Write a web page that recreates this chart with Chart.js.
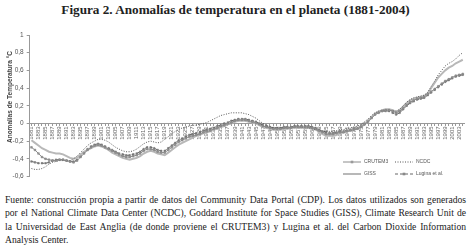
<!DOCTYPE html>
<html>
<head>
<meta charset="utf-8">
<script src="https://cdn.jsdelivr.net/npm/chart.js@4.4.1/dist/chart.umd.min.js"></script>
<style>
  body { margin: 0; width: 471px; height: 245px; background: #fff; overflow: hidden; position: relative; }
  #title { position: absolute; left: 0; top: 2px; width: 471px; text-align: center;
           font: bold 13.2px "Liberation Serif", serif; color: #222; }
  #box { position: absolute; left: 0; top: 28px; width: 471px; height: 164px; }
  #note { position: absolute; left: 5px; top: 193px; width: 461px;
          font: 9.6px/13.3px "Liberation Serif", serif; color: #222; }
  #note .j { text-align: justify; text-align-last: justify; }
</style>
</head>
<body>
<div id="title">Figura 2. Anomalías de temperatura en el planeta (1881-2004)</div>
<div id="box"><canvas id="chart" width="471" height="164"></canvas></div>
<div id="note">
  <div class="j">Fuente: construcción propia a partir de datos del Community Data Portal (CDP). Los datos utilizados son generados</div>
  <div class="j">por el National Climate Data Center (NCDC), Goddard Institute for Space Studies (GISS), Climate Research Unit de</div>
  <div class="j">la Universidad de East Anglia (de donde proviene el CRUTEM3) y Lugina et al. del Carbon Dioxide Information</div>
  <div>Analysis Center.</div>
</div>
<script>
// years 1881..2004
const years = [];
for (let y = 1881; y <= 2004; y++) years.push(y);

const yTicks = [1, 0.8, 0.6, 0.4, 0.2, 0, -0.2, -0.4, -0.6];

const crutem3 = [
  -0.27,-0.30,-0.34,-0.38,-0.40,-0.41,-0.42,-0.42,-0.41,-0.41,
  -0.42,-0.43,-0.44,-0.42,-0.38,-0.34,-0.30,-0.27,-0.25,-0.24,
  -0.25,-0.27,-0.29,-0.31,-0.33,-0.35,-0.37,-0.38,-0.38,-0.37,
  -0.36,-0.34,-0.31,-0.29,-0.29,-0.30,-0.32,-0.33,-0.33,-0.30,
  -0.27,-0.24,-0.21,-0.19,-0.17,-0.15,-0.14,-0.13,-0.12,-0.10,
  -0.09,-0.08,-0.06,-0.05,-0.03,-0.02,0.00,0.01,0.03,0.04,
  0.04,0.04,0.03,0.02,0.01,-0.01,-0.03,-0.04,-0.05,-0.06,
  -0.06,-0.06,-0.05,-0.05,-0.05,-0.04,-0.04,-0.04,-0.04,-0.04,
  -0.05,-0.06,-0.08,-0.10,-0.12,-0.12,-0.12,-0.11,-0.10,-0.10,
  -0.09,-0.08,-0.07,-0.06,-0.04,-0.01,0.02,0.06,0.10,0.12,
  0.14,0.15,0.15,0.14,0.12,0.14,0.17,0.21,0.24,0.26,
  0.28,0.29,0.30,0.33,0.36,0.39,0.42,0.45,0.48,0.50,
  0.52,0.54,0.55,0.56
];
const ncdc = [
  -0.51,-0.52,-0.52,-0.51,-0.49,-0.46,-0.44,-0.43,-0.42,-0.42,
  -0.42,-0.42,-0.40,-0.37,-0.33,-0.29,-0.25,-0.22,-0.20,-0.18,
  -0.18,-0.19,-0.21,-0.24,-0.27,-0.29,-0.31,-0.32,-0.32,-0.31,
  -0.29,-0.26,-0.23,-0.21,-0.20,-0.21,-0.22,-0.21,-0.18,-0.15,
  -0.12,-0.09,-0.07,-0.05,-0.04,-0.03,-0.02,-0.02,-0.01,0.00,
  0.01,0.03,0.05,0.07,0.09,0.10,0.11,0.12,0.12,0.12,
  0.12,0.11,0.10,0.08,0.06,0.03,0.00,-0.02,-0.04,-0.05,
  -0.05,-0.05,-0.05,-0.05,-0.04,-0.04,-0.04,-0.04,-0.05,-0.05,
  -0.06,-0.07,-0.08,-0.09,-0.09,-0.09,-0.09,-0.08,-0.07,-0.07,
  -0.06,-0.05,-0.04,-0.03,-0.01,0.02,0.05,0.09,0.12,0.14,
  0.15,0.15,0.15,0.14,0.14,0.16,0.20,0.24,0.27,0.29,
  0.30,0.31,0.32,0.35,0.42,0.48,0.55,0.60,0.65,0.68,
  0.70,0.73,0.77,0.80
];
const giss = [
  -0.19,-0.22,-0.25,-0.28,-0.30,-0.32,-0.33,-0.34,-0.34,-0.35,
  -0.37,-0.39,-0.40,-0.39,-0.35,-0.32,-0.30,-0.28,-0.26,-0.25,
  -0.26,-0.28,-0.30,-0.33,-0.35,-0.37,-0.39,-0.40,-0.41,-0.40,
  -0.39,-0.37,-0.34,-0.32,-0.31,-0.32,-0.34,-0.35,-0.36,-0.33,
  -0.30,-0.27,-0.24,-0.22,-0.20,-0.18,-0.16,-0.14,-0.13,-0.11,
  -0.10,-0.09,-0.07,-0.06,-0.04,-0.03,-0.01,0.00,0.02,0.03,
  0.03,0.03,0.02,0.01,0.00,-0.02,-0.04,-0.05,-0.06,-0.07,
  -0.07,-0.07,-0.06,-0.06,-0.05,-0.05,-0.05,-0.05,-0.05,-0.05,
  -0.06,-0.07,-0.09,-0.12,-0.14,-0.14,-0.14,-0.13,-0.11,-0.10,
  -0.09,-0.08,-0.07,-0.06,-0.04,-0.01,0.03,0.07,0.11,0.13,
  0.15,0.16,0.16,0.15,0.13,0.15,0.19,0.23,0.26,0.28,
  0.29,0.30,0.31,0.34,0.40,0.46,0.52,0.56,0.60,0.63,
  0.65,0.68,0.70,0.72
];
const lugina = [
  -0.43,-0.44,-0.45,-0.45,-0.45,-0.44,-0.42,-0.41,-0.41,-0.41,
  -0.42,-0.43,-0.43,-0.41,-0.37,-0.33,-0.29,-0.26,-0.24,-0.23,
  -0.24,-0.26,-0.28,-0.30,-0.32,-0.34,-0.35,-0.36,-0.36,-0.35,
  -0.34,-0.32,-0.29,-0.27,-0.27,-0.28,-0.30,-0.31,-0.31,-0.28,
  -0.25,-0.22,-0.19,-0.17,-0.15,-0.13,-0.12,-0.11,-0.10,-0.08,
  -0.07,-0.06,-0.05,-0.03,-0.02,0.00,0.01,0.03,0.04,0.05,
  0.05,0.05,0.04,0.03,0.02,0.00,-0.02,-0.03,-0.04,-0.05,
  -0.05,-0.05,-0.04,-0.04,-0.04,-0.03,-0.03,-0.03,-0.03,-0.03,
  -0.04,-0.05,-0.07,-0.09,-0.10,-0.11,-0.11,-0.10,-0.09,-0.09,
  -0.08,-0.07,-0.06,-0.05,-0.03,0.00,0.03,0.07,0.11,0.13,
  0.14,0.14,0.14,0.12,0.10,0.12,0.16,0.20,0.23,0.25,
  0.27,0.28,0.29,0.32,0.35,0.38,0.41,0.44,0.47,0.49,
  0.51,0.53,0.54,0.55
];

// legend + y title drawn by hand, like the office chart
const extras = {
  id: 'extras',
  afterDraw(chart) {
    const ctx = chart.ctx;
    ctx.save();
    // y axis title
    ctx.translate(10, 69);
    ctx.rotate(-Math.PI / 2);
    ctx.font = 'bold 6.5px "Liberation Sans", sans-serif';
    ctx.fillStyle = '#444';
    ctx.textAlign = 'center';
    ctx.textBaseline = 'middle';
    ctx.fillText('Anomalías de Temperatura °C', 0, 0);
    ctx.restore();

    // legend
    const items = [
      { text: 'CRUTEM3', x: 343, y: 134, ds: 0 },
      { text: 'NCDC', x: 395, y: 134, ds: 1 },
      { text: 'GISS', x: 343, y: 146, ds: 2 },
      { text: 'Lugina et al.', x: 395, y: 146, ds: 3 }
    ];
    ctx.save();
    ctx.font = '5px "Liberation Sans", sans-serif';
    ctx.textBaseline = 'middle';
    items.forEach(it => {
      const d = chart.data.datasets[it.ds];
      ctx.strokeStyle = d.borderColor;
      ctx.lineWidth = d.borderWidth;
      ctx.setLineDash(d.borderDash || []);
      ctx.beginPath();
      ctx.moveTo(it.x, it.y);
      ctx.lineTo(it.x + 18, it.y);
      ctx.stroke();
      ctx.setLineDash([]);
      if (d.pointRadius > 0) {
        ctx.fillStyle = d.pointBackgroundColor;
        ctx.fillRect(it.x + 9 - 1.3, it.y - 1.3, 2.6, 2.6);
      }
      ctx.fillStyle = '#555';
      ctx.fillText(it.text, it.x + 21, it.y);
    });
    ctx.restore();
  }
};

new Chart(document.getElementById('chart'), {
  type: 'line',
  data: {
    labels: years,
    datasets: [
      {
        label: 'CRUTEM3',
        data: crutem3,
        borderColor: '#8c8c8c',
        borderWidth: 1,
        pointStyle: 'rect',
        pointRadius: 1.2,
        pointBackgroundColor: '#9a9a9a',
        pointBorderColor: '#7a7a7a',
        pointBorderWidth: 0.5
      },
      {
        label: 'NCDC',
        data: ncdc,
        borderColor: '#555',
        borderWidth: 1,
        borderDash: [1, 1.5],
        pointRadius: 0
      },
      {
        label: 'GISS',
        data: giss,
        borderColor: '#b8b8b8',
        borderWidth: 2,
        pointRadius: 0
      },
      {
        label: 'Lugina et al.',
        data: lugina,
        borderColor: '#666',
        borderWidth: 1,
        borderDash: [3, 2],
        pointStyle: 'rect',
        pointRadius: 1.1,
        pointBackgroundColor: '#888',
        pointBorderColor: '#666',
        pointBorderWidth: 0.5
      }
    ]
  },
  options: {
    responsive: false,
    animation: false,
    devicePixelRatio: 1,
    layout: { padding: { top: 7, bottom: 15.5, left: 0, right: 3.6 } },
    plugins: { legend: { display: false }, tooltip: { enabled: false } },
    scales: {
      x: {
        position: { y: 0 },
        offset: true,
        grid: { drawOnChartArea: false, tickLength: 2, color: '#999' },
        border: { color: '#999' },
        ticks: {
          autoSkip: false,
          minRotation: 90,
          maxRotation: 90,
          padding: 1,
          color: '#666',
          font: { size: 6, family: '"Liberation Sans", sans-serif' },
          callback: (v, i) => (i % 2 === 0 ? years[i] : '')
        }
      },
      y: {
        min: -0.6,
        max: 1,
        afterBuildTicks: s => { s.ticks = yTicks.map(v => ({ value: v })); },
        afterFit: s => { s.width = 29.7; },
        grid: { drawOnChartArea: false, tickLength: 3, color: '#999' },
        border: { color: '#999' },
        ticks: {
          padding: 3,
          color: '#555',
          font: { size: 6.5, family: '"Liberation Sans", sans-serif' },
          callback: v => String(Math.round(v * 10) / 10).replace('.', ',')
        }
      }
    }
  },
  plugins: [extras]
});
</script>
</body>
</html>
